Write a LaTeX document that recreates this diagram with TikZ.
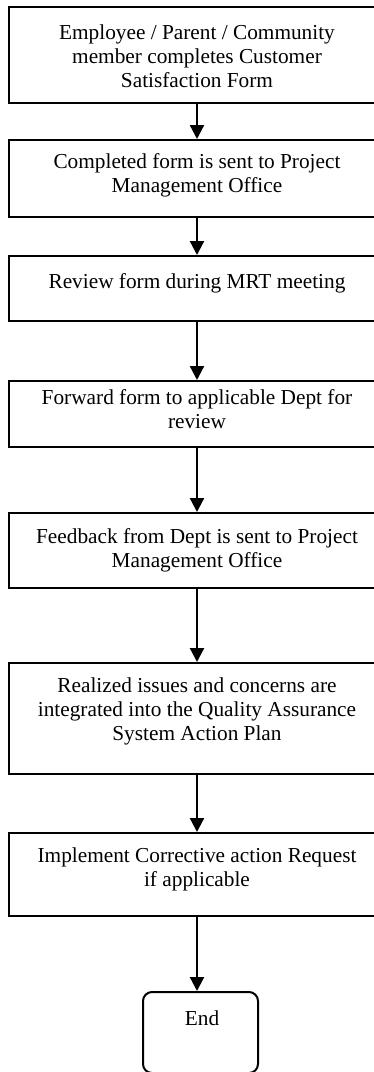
\documentclass[tikz,border=0pt]{standalone}
\usepackage{fontspec}
\setmainfont{Liberation Serif}
\usetikzlibrary{arrows.meta}
\begin{document}
\begin{tikzpicture}[x=1pt,y=-1pt,
  stepbox/.style={draw=black,line width=2pt,inner sep=0pt,minimum width=376pt},
  endbox/.style={draw=black,line width=2pt,inner sep=0pt,rounded corners=9pt,minimum width=115pt,minimum height=81pt},
  txt/.style={align=center,inner sep=0pt,font=\fontsize{21.3}{24}\selectfont},
  flow/.style={line width=2.3pt,-{Triangle[length=14pt,width=14pt]}}]
\useasboundingbox (0,0) rectangle (373,1072);
% boxes
\node[stepbox,minimum height=96pt] (b1) at (197,55) {};
\node[stepbox,minimum height=77pt] (b2) at (197,178.5) {};
\node[stepbox,minimum height=65pt] (b3) at (197,288.5) {};
\node[stepbox,minimum height=66pt] (b4) at (197,414) {};
\node[stepbox,minimum height=75pt] (b5) at (197,550.5) {};
\node[stepbox,minimum height=111pt] (b6) at (197,718.5) {};
\node[stepbox,minimum height=83pt] (b7) at (197,874.5) {};
\node[endbox] (e) at (200.5,1032.5) {};
% texts
\node[txt] (t1) at (197,56) {Employee / Parent / Community\\member completes Customer\\Satisfaction Form};
\node[txt] (t2) at (197,175.5) {Completed form is sent to Project\\Management Office};
\node[txt] (t3) at (197,283) {Review form during MRT meeting};
\node[txt] (t4) at (197,409.5) {Forward form to applicable Dept for\\review};
\node[txt] (t5) at (197,550) {Feedback from Dept is sent to Project\\Management Office};
\node[txt] (t6) at (197,711.5) {Realized issues and concerns are\\integrated into the Quality Assurance\\System Action Plan};
\node[txt] (t7) at (197,869.5) {Implement Corrective action Request\\if applicable};
\node[txt] (te) at (202,1018) {End};
% connectors
\draw[flow] (b1.south) -- (b2.north);
\draw[flow] (b2.south) -- (b3.north);
\draw[flow] (b3.south) -- (b4.north);
\draw[flow] (b4.south) -- (b5.north);
\draw[flow] (b5.south) -- (b6.north);
\draw[flow] (b6.south) -- (b7.north);
\draw[flow] (b7.south) -- (b7.south |- e.north);
\end{tikzpicture}
\end{document}
